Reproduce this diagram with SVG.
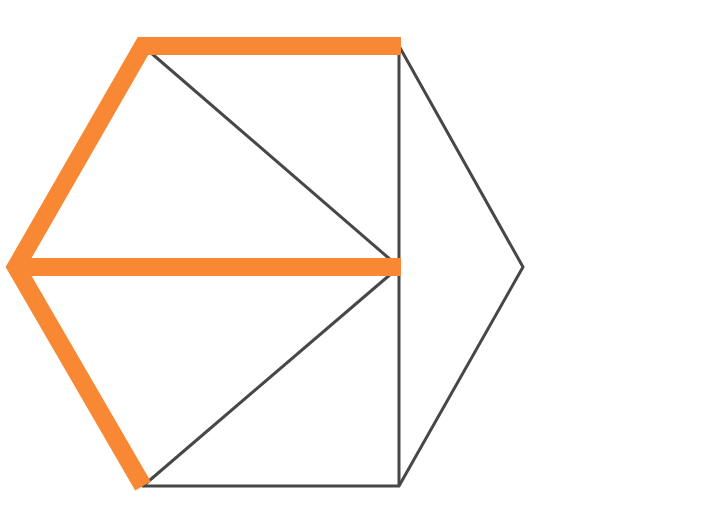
<svg xmlns="http://www.w3.org/2000/svg" width="722" height="527" viewBox="0 0 722 527">
<style>
.edge{fill:none;stroke:#474747;stroke-width:3;stroke-linejoin:miter}
.hl{fill:none;stroke:#F98834;stroke-width:18;stroke-linejoin:miter;stroke-linecap:butt}
</style>
<rect width="722" height="527" fill="#ffffff"/>
<g id="connectors">
<polygon class="edge" points="143,46 399,46 523,267 399,486 143,486 16,267"/>
<line class="edge" x1="399" y1="46" x2="399" y2="486"/>
<line class="edge" x1="143" y1="46" x2="399" y2="267"/>
<line class="edge" x1="399" y1="267" x2="143" y2="486"/>
<polyline class="hl" points="401,46 143,46 16,267 143,486"/>
<line class="hl" x1="16" y1="267" x2="401" y2="267"/>
</g>
</svg>
